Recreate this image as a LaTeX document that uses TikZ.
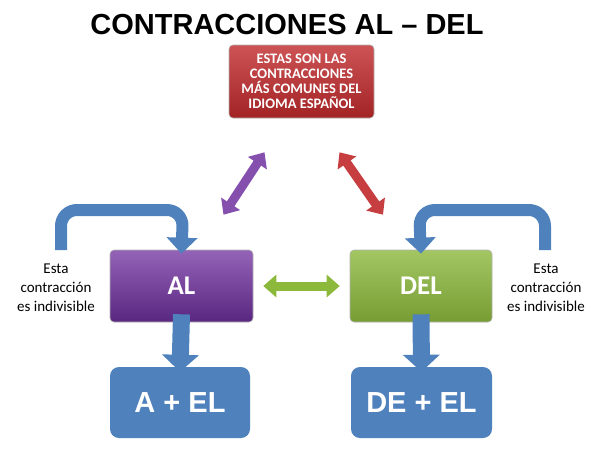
\documentclass[tikz,border=0pt]{standalone}
\usepackage{fontspec}
\setmainfont{Carlito}
\newfontfamily\titlefont{Liberation Sans}
\usetikzlibrary{arrows.meta}
\definecolor{bl}{HTML}{4F81BD}
\definecolor{pu}{HTML}{7030A0}
\definecolor{gr}{HTML}{8CB83C}
\definecolor{rd}{HTML}{C0292B}
\begin{document}
\begin{tikzpicture}[x=1pt,y=-1pt,
 box/.style={rounded corners=4pt,draw=white!70!black,line width=0.6pt,text=white,align=center,inner sep=0pt},
 res/.style={rounded corners=9pt,fill=bl,text=white,font=\titlefont\fontsize{29}{30}\selectfont\bfseries,inner sep=0pt},
 dbl/.style={line width=9pt,{Triangle[width=22pt,length=13pt]}-{Triangle[width=22pt,length=13pt]}},
 down/.style={line width=17pt,bl,-{Triangle[width=36pt,length=17pt]}},
 bent/.style={line width=12pt,bl,rounded corners=16pt,-{Triangle[width=30pt,length=16pt]}},
 lab/.style={align=center,font=\fontsize{15}{19}\selectfont}]
\useasboundingbox (0,0) rectangle (600,450);
\node[font=\titlefont\fontsize{29}{32}\selectfont\bfseries] (title) at (287,25) {CONTRACCIONES AL – DEL};
\node[box,top color=rd!80!white,bottom color=rd!85!black,minimum width=145pt,minimum height=73pt,font=\fontsize{14.5}{15}\selectfont\bfseries] (top) at (301.5,81.5) {ESTAS SON LAS\\CONTRACCIONES\\MÁS COMUNES DEL\\IDIOMA ESPAÑOL};
\node[box,top color=pu!75!white,bottom color=pu!80!black,minimum width=143pt,minimum height=72pt,font=\fontsize{27}{30}\selectfont\bfseries] (al) at (181.5,286) {AL};
\node[box,top color=gr!80!white,bottom color=gr!85!black,minimum width=142pt,minimum height=72pt,font=\fontsize{27}{30}\selectfont\bfseries] (del) at (421,286) {DEL};
\node[res,minimum width=140pt,minimum height=71pt] (ael) at (180,402.5) {A + EL};
\node[res,minimum width=141pt,minimum height=71pt] (deel) at (421.5,402.5) {DE + EL};
\draw[down] ([yshift=8pt]al.south) -- ([yshift=-5pt]ael.north);
\draw[down] ([yshift=8pt]del.south) -- ([yshift=-5pt]deel.north);
\coordinate (lb) at (61,250); \coordinate (rb) at (545,250);
\draw[bent] (lb) -- (61,210) -- (183,210) -- ([yshift=-4pt]al.north);
\draw[bent] (rb) -- (545,210) -- (419,210) -- ([yshift=-4pt]del.north);
\node[lab] (ll) at (56,288) {Esta\\contracción\\es indivisible};
\node[lab] (rl) at (546,288) {Esta\\contracción\\es indivisible};
\draw[dbl,pu!85!white] ([shift={(42,-35)}]al.north) -- ([shift={(-37,34)}]top.south);
\draw[dbl,rd!90!white] ([shift={(38,34)}]top.south) -- ([shift={(-38,-35)}]del.north);
\draw[dbl,gr] ([xshift=10pt]al.east) -- ([xshift=-10pt]del.west);
\end{tikzpicture}
\end{document}
